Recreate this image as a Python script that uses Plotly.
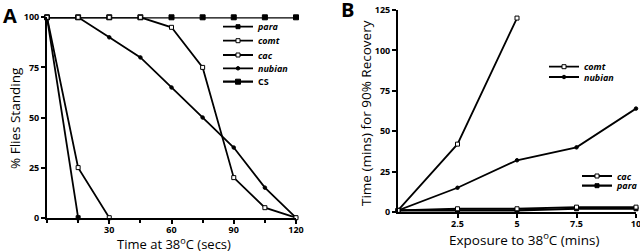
import plotly.graph_objects as go

W, H = 640, 252

# ---------------- data ----------------
# Panel A: % flies standing vs time at 38C (secs)
time_a = [0, 15, 30, 45, 60, 75, 90, 105, 120]
para_time_a = [0, 15]
para_a = [100, 0]
comt_a = [100, 100, 100, 100, 95, 75, 20, 5, 0]
cac_time_a = [0, 15, 30]
cac_a = [100, 25, 0]
nubian_a = [100, 100, 90, 80, 65, 50, 35, 15, 0]
cs_a = [100, 100, 100, 100, 100, 100, 100, 100, 100]
a_xticks = [30, 60, 90, 120]
a_yticks = [0, 25, 50, 75, 100]

# Panel B: time for 90% recovery vs exposure (mins)
exposure_b = [0, 2.5, 5, 7.5, 10]
comt_exp_b = [0, 2.5, 5]
comt_b = [1, 42, 120]
nubian_b = [1, 15, 32, 40, 64]
cac_b = [1, 2, 2, 3, 3]
para_b = [1, 1, 1, 2, 2]
b_xticks = [2.5, 5, 7.5, 10]
b_xticktext = ["2.5", "5", "7.5", "10"]
b_yticks = [0, 25, 50, 75, 100, 125]

FONT = "Open Sans"

def px(x):
    return x / W

def py(y):
    return 1 - y / H

fig = go.Figure()

def add(x, y, name, symbol, size, lw, xa, ya, legend, fill="black"):
    fig.add_trace(go.Scatter(
        x=x, y=y, name=name, mode="lines+markers",
        line=dict(color="black", width=lw),
        marker=dict(symbol=symbol, size=size, color=fill,
                    line=dict(color="black", width=1)),
        xaxis=xa, yaxis=ya, legend=legend, cliponaxis=False))

# Panel A traces
add(time_a, cs_a, "CS", "square", 5, 2.2, "x", "y", "legend5")
add(para_time_a, para_a, "<i>para</i>", "square", 4, 1.8, "x", "y", "legend")
add(cac_time_a, cac_a, "<i>cac</i>", "square", 4, 1.8, "x", "y", "legend3", fill="white")
add(time_a, nubian_a, "<i>nubian</i>", "circle", 3.5, 1.8, "x", "y", "legend4")
add(time_a, comt_a, "<i>comt</i>", "square", 4, 1.8, "x", "y", "legend2", fill="white")

# Panel B traces
add(exposure_b, para_b, "<i>para</i>", "square", 4, 2.2, "x2", "y2", "legend9")
add(exposure_b, cac_b, "<i>cac</i>", "square", 4, 1.8, "x2", "y2", "legend8", fill="white")
add(exposure_b, nubian_b, "<i>nubian</i>", "circle", 3.5, 1.8, "x2", "y2", "legend7")
add(comt_exp_b, comt_b, "<i>comt</i>", "square", 4, 1.8, "x2", "y2", "legend6", fill="white")

tickfont = dict(family=FONT, size=9, color="black", weight="bold")
axis_common = dict(showline=True, linecolor="black", linewidth=2, ticks="outside",
                   ticklen=4, tickwidth=1.5, tickcolor="black", showgrid=False,
                   zeroline=False, tickfont=tickfont, fixedrange=True, automargin=False,
                   ticklabeloverflow="allow")

layout = dict(
    width=W, height=H, margin=dict(l=0, r=0, t=0, b=0, autoexpand=False),
    paper_bgcolor="white", plot_bgcolor="white", showlegend=True,
    xaxis=dict(axis_common, domain=[px(47), px(296)], range=[0, 120],
               tickvals=a_xticks, anchor="y", ticklabelstandoff=-2,
               minor=dict(dtick=15, ticks="outside", ticklen=3, tickcolor="black")),
    yaxis=dict(axis_common, domain=[py(217.7), py(17.3)], range=[0, 100],
               tickvals=a_yticks, anchor="x"),
    xaxis2=dict(axis_common, domain=[px(398), px(636)], range=[0, 10],
                tickvals=b_xticks, ticktext=b_xticktext, anchor="y2",
                ticklabelstandoff=-2),
    yaxis2=dict(axis_common, domain=[py(212), py(10)], range=[0, 125],
                tickvals=b_yticks, anchor="x2"),
)

legfont = dict(family=FONT, size=9, color="black", weight="bold")
leg_specs = {
    "legend": (218, 26.7),
    "legend2": (218, 40.7),
    "legend3": (218, 55.0),
    "legend4": (218, 68.3),
    "legend5": (218, 81.7),
    "legend6": (544, 66.7),
    "legend7": (544, 77.0),
    "legend8": (577, 176.0),
    "legend9": (577, 185.7),
}
for key, (lx, ly) in leg_specs.items():
    layout[key] = dict(x=px(lx), y=py(ly), xanchor="left", yanchor="middle",
                       bgcolor="rgba(0,0,0,0)", borderwidth=0, font=legfont,
                       itemclick=False, itemdoubleclick=False)

fig.update_layout(**layout)

t13 = dict(family=FONT, size=13, color="black")
t135 = dict(family=FONT, size=13.5, color="black")
ann = [
    dict(text="<b>A</b>", x=px(10), y=py(15), font=dict(family=FONT, size=20, color="black")),
    dict(text="<b>B</b>", x=px(347), y=py(10), font=dict(family=FONT, size=20, color="black")),
    dict(text="Time at 38<sup>o</sup>C (secs)", x=px(174), y=py(243.5), font=t13),
    dict(text="Exposure to 38<sup>o</sup>C (mins)", x=px(524), y=py(238.5), font=t135),
    dict(text="% Flies Standing", x=px(15), y=py(118), textangle=-90, font=t135),
    dict(text="Time (mins) for 90% Recovery", x=px(366), y=py(113), textangle=-90, font=t135),
]
for a in ann:
    a.update(xref="paper", yref="paper", showarrow=False, xanchor="center", yanchor="middle")
    fig.add_annotation(**a)

fig.write_html("out.html", config={"displayModeBar": False},
               post_script="document.body.style.margin='0px';")
